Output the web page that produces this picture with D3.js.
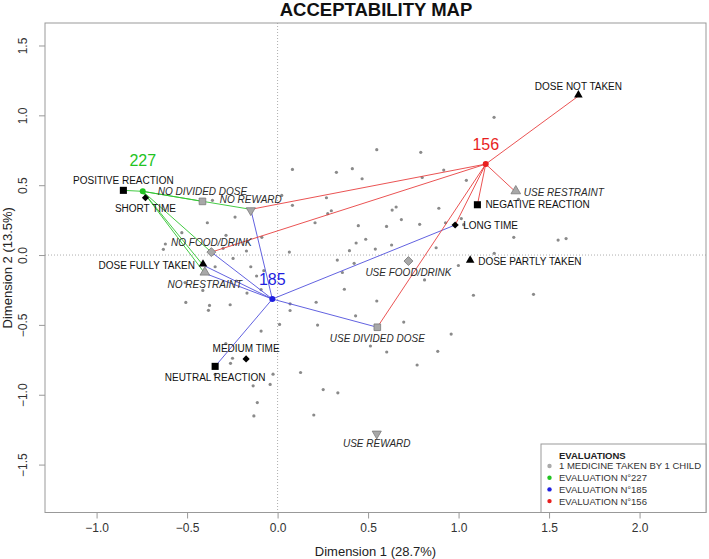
<!DOCTYPE html>
<html><head><meta charset="utf-8">
<script src="https://cdnjs.cloudflare.com/ajax/libs/d3/7.8.5/d3.min.js"></script>
<style>body{margin:0;background:#fff}svg{display:block;font-family:"Liberation Sans",Arial,sans-serif}</style>
</head><body><svg id="c" width="709" height="559"></svg>
<script>
// ---- DATA ----
const greyX = [0.082,0.325,0.413,-0.360,0.023,0.082,0.270,0.297,0.277,-0.235,
 -0.388,0.207,0.446,-0.529,-0.285,-0.087,-0.620,0.434,-0.631,-0.172,
 0.065,0.397,-0.301,-0.345,-0.246,-0.148,-0.116,-0.169,-0.413,-0.511,
 -0.227,-0.507,-0.376,-0.382,-0.262,-0.091,0.069,0.069,0.213,0.011,
 0.221,-0.091,-0.286,-0.249,-0.260,-0.025,0.127,-0.135,-0.041,0.252,
 0.333,-0.112,-0.131,0.200,0.330,0.358,0.369,0.431,0.423,0.487,
 -0.076,0.548,0.513,0.603,1.196,0.548,0.791,0.918,0.467,0.799,
 1.043,0.655,0.633,0.891,0.684,0.602,0.785,0.928,1.015,1.028,
 1.305,1.550,1.594,0.630,0.540,0.876,1.197,1.331,0.999,0.812,
 1.082,1.414,0.697,0.959,0.885,0.771,-0.345];
const greyY = [0.613,0.592,0.618,0.392,0.427,0.356,0.410,0.317,0.296,0.272,
 0.231,0.231,0.210,0.160,0.141,0.127,0.079,0.086,0.041,0.029,
 0.021,0.031,0.048,-0.084,-0.024,-0.084,-0.150,-0.272,-0.253,-0.197,
 -0.186,-0.339,-0.361,-0.396,-0.356,-0.247,-0.349,-0.397,-0.338,-0.497,
 -0.501,-0.544,-0.634,-0.739,-0.775,-0.853,-0.841,-0.936,-0.926,-0.963,
 -0.986,-1.056,-1.152,-1.145,-0.036,-0.125,-0.245,-0.435,-0.059,0.113,
 -0.112,-0.329,-0.651,-0.694,0.986,0.754,0.735,0.608,0.546,0.555,
 0.535,0.344,0.322,0.335,0.254,0.205,0.220,0.231,0.261,0.217,
 0.127,0.107,0.118,0.072,0.043,0.052,0.012,0.399,-0.075,-0.178,
 -0.288,-0.281,-0.480,-0.566,-0.689,-0.787,-0.854];

const catNames = ["POSITIVE REACTION","NEUTRAL REACTION","NEGATIVE REACTION",
 "SHORT TIME","MEDIUM TIME","LONG TIME",
 "DOSE FULLY TAKEN","DOSE PARTLY TAKEN","DOSE NOT TAKEN",
 "NO DIVIDED DOSE","USE DIVIDED DOSE","NO REWARD","USE REWARD",
 "NO FOOD/DRINK","USE FOOD/DRINK","NO RESTRAINT","USE RESTRAINT"];
const catX = [-0.852,-0.345,1.104,-0.730,-0.174,0.981,-0.412,1.064,1.662,-0.415,0.551,-0.148,0.548,-0.366,0.723,-0.402,1.316];
const catY = [0.463,-0.797,0.360,0.410,-0.744,0.215,-0.072,-0.045,1.138,0.384,-0.517,0.327,-1.272,0.021,-0.043,-0.131,0.451];
const catVariable = ["reaction","reaction","reaction","time","time","time","dose","dose","dose",
 "divided","divided","reward","reward","food","food","restraint","restraint"];

const evalIds = ["227","185","156"];
const evalX = [-0.745,-0.029,1.150];
const evalY = [0.456,-0.315,0.651];
const evalCategories = [
 ["POSITIVE REACTION","SHORT TIME","DOSE FULLY TAKEN","NO DIVIDED DOSE","NO REWARD","NO FOOD/DRINK","NO RESTRAINT"],
 ["NEUTRAL REACTION","LONG TIME","DOSE FULLY TAKEN","USE DIVIDED DOSE","NO REWARD","NO FOOD/DRINK","NO RESTRAINT"],
 ["NEGATIVE REACTION","LONG TIME","DOSE NOT TAKEN","USE DIVIDED DOSE","NO REWARD","NO FOOD/DRINK","USE RESTRAINT"]];

const xTicks = [-1.0,-0.5,0.0,0.5,1.0,1.5,2.0];
const yTicks = [-1.5,-1.0,-0.5,0.0,0.5,1.0,1.5];
const legendLabels = ["1 MEDICINE TAKEN BY 1 CHILD","EVALUATION N°227","EVALUATION N°185","EVALUATION N°156"];

// ---- STYLES ----
const evalColors = {"227":"#22c322","185":"#1f1fe0","156":"#e81e1e"};
const lineColors = {"227":"#2fc42f","185":"#5050dc","156":"#e84040"};
const varStyle = {
 reaction:{shape:"square", size:50, fill:"#000", stroke:"none", italic:false},
 time:{shape:"diamond", size:26, fill:"#000", stroke:"none", italic:false},
 dose:{shape:"triangle", size:32, fill:"#000", stroke:"none", italic:false},
 divided:{shape:"square", size:44, fill:"#a8a8a8", stroke:"#7a7a7a", italic:true},
 reward:{shape:"triangleDown", size:36, fill:"#a8a8a8", stroke:"#7a7a7a", italic:true},
 food:{shape:"diamond", size:40, fill:"#a8a8a8", stroke:"#7a7a7a", italic:true},
 restraint:{shape:"triangle", size:40, fill:"#a8a8a8", stroke:"#7a7a7a", italic:true}
};
const labelPos = {"POSITIVE REACTION":3,"NEUTRAL REACTION":1,"NEGATIVE REACTION":4,"SHORT TIME":1,
 "MEDIUM TIME":3,"LONG TIME":4,"DOSE FULLY TAKEN":2,"DOSE PARTLY TAKEN":4,"DOSE NOT TAKEN":3,
 "NO DIVIDED DOSE":3,"USE DIVIDED DOSE":1,"NO REWARD":3,"USE REWARD":1,"NO FOOD/DRINK":3,
 "USE FOOD/DRINK":1,"NO RESTRAINT":1,"USE RESTRAINT":4};
const evalLabelDy = {"227":-25,"185":-14,"156":-14};

// ---- LAYOUT ----
const L=45, R=706, T=23, B=512.5;
const svg = d3.select("#c");
const x = d3.scaleLinear().domain([-1.285,2.367]).range([L,R]);
const y = d3.scaleLinear().domain([1.661,-1.843]).range([T,B]);

svg.append("text").attr("x",376).attr("y",16).attr("text-anchor","middle")
 .attr("font-size","18.5px").attr("font-weight","bold").attr("fill","#111").text("ACCEPTABILITY MAP");

// zero lines
svg.append("line").attr("x1",x(0)).attr("x2",x(0)).attr("y1",T).attr("y2",B)
 .attr("stroke","#999").attr("stroke-dasharray","1,2").attr("stroke-width",0.8);
svg.append("line").attr("x1",L).attr("x2",R).attr("y1",y(0)).attr("y2",y(0))
 .attr("stroke","#999").attr("stroke-dasharray","1,2").attr("stroke-width",0.8);

// axes
const xa = svg.append("g").attr("transform",`translate(0,${B})`)
 .call(d3.axisBottom(x).tickValues(xTicks).tickFormat(d3.format(".1f")).tickSize(6));
const ya = svg.append("g").attr("transform",`translate(${L},0)`)
 .call(d3.axisLeft(y).tickValues(yTicks).tickFormat(d3.format(".1f")).tickSize(6));
[xa,ya].forEach(a=>{a.select(".domain").remove();
 a.selectAll(".tick line").attr("stroke","#999");
 a.selectAll(".tick text").attr("fill","#333").attr("font-size","12px").attr("font-family",'"Liberation Sans",Arial,sans-serif');});
xa.selectAll(".tick text").attr("y",11).attr("dy","0.71em");
ya.selectAll(".tick text").attr("transform","rotate(-90)").attr("text-anchor","middle")
 .attr("x",0).attr("y",-18).attr("dy",0);

svg.append("text").attr("x",(L+R)/2).attr("y",556).attr("text-anchor","middle")
 .attr("font-size","13px").attr("fill","#222").text("Dimension 1 (28.7%)");
svg.append("text").attr("transform",`translate(12,${(T+B)/2}) rotate(-90)`).attr("text-anchor","middle")
 .attr("font-size","13px").attr("fill","#222").text("Dimension 2 (13.5%)");

// grey individuals
svg.append("g").selectAll("circle").data(greyX.map((v,i)=>[v,greyY[i]])).join("circle")
 .attr("cx",d=>x(d[0])).attr("cy",d=>y(d[1])).attr("r",1.6).attr("fill","#8a8a8a");

// connecting lines
const catIdx = Object.fromEntries(catNames.map((n,i)=>[n,i]));
const lg = svg.append("g");
evalIds.forEach((id,k)=>{
 evalCategories[k].forEach(n=>{
  const i = catIdx[n];
  lg.append("line").attr("x1",x(evalX[k])).attr("y1",y(evalY[k])).attr("x2",x(catX[i])).attr("y2",y(catY[i]))
   .attr("stroke",lineColors[id]).attr("stroke-width",0.9);
 });
});

// category markers
const symType = {square:d3.symbolSquare, diamond:d3.symbolSquare, triangle:d3.symbolTriangle, triangleDown:d3.symbolTriangle};
const mg = svg.append("g");
catNames.forEach((n,i)=>{
 const st = varStyle[catVariable[i]];
 let rot = st.shape==="diamond"?45:(st.shape==="triangleDown"?180:0);
 const dyS = st.shape==="triangle"? -1 : (st.shape==="triangleDown"?1:0);
 mg.append("path").attr("d",d3.symbol().type(symType[st.shape]).size(st.size)())
  .attr("transform",`translate(${x(catX[i])},${y(catY[i])+dyS}) rotate(${rot})`)
  .attr("fill",st.fill).attr("stroke",st.stroke).attr("stroke-width",0.8);
});

// evaluation points
evalIds.forEach((id,k)=>{
 svg.append("circle").attr("cx",x(evalX[k])).attr("cy",y(evalY[k])).attr("r",3).attr("fill",evalColors[id]);
 svg.append("text").attr("x",x(evalX[k])).attr("y",y(evalY[k])+evalLabelDy[id]).attr("text-anchor","middle")
  .attr("font-size","16px").attr("fill",evalColors[id]).text(id);
});

// category labels
catNames.forEach((n,i)=>{
 const st = varStyle[catVariable[i]];
 const p = labelPos[n], px = x(catX[i]), py = y(catY[i]);
 let tx=px, ty=py+3.5, anc="middle";
 if(p===3){ty=py-6.5;} else if(p===1){ty=py+14.5;} else if(p===2){tx=px-8;anc="end";} else {tx=px+8;anc="start";}
 svg.append("text").attr("x",tx).attr("y",ty).attr("text-anchor",anc).attr("font-size","10px")
  .attr("font-style",st.italic?"italic":"normal").attr("fill",st.italic?"#2a2a2a":"#111").text(n);
});

// border
svg.append("rect").attr("x",L).attr("y",T).attr("width",R-L).attr("height",B-T)
 .attr("fill","none").attr("stroke","#999").attr("stroke-width",1);

// legend
const lgX = 541;
svg.append("rect").attr("x",lgX).attr("y",444).attr("width",R-lgX).attr("height",B-444)
 .attr("fill","#fff").attr("stroke","#999").attr("stroke-width",1);
svg.append("text").attr("x",559).attr("y",459).attr("font-size","9.5px").attr("font-weight","bold").attr("fill","#222").text("EVALUATIONS");
const legCols = ["#aaaaaa",evalColors["227"],evalColors["185"],evalColors["156"]];
legendLabels.forEach((t,i)=>{
 const cy = 466 + i*11.7;
 svg.append("circle").attr("cx",549.5).attr("cy",cy).attr("r",2.2).attr("fill",legCols[i]);
 svg.append("text").attr("x",559).attr("y",cy+3.4).attr("font-size","9.5px").attr("fill","#333").text(t);
});
</script></body></html>
